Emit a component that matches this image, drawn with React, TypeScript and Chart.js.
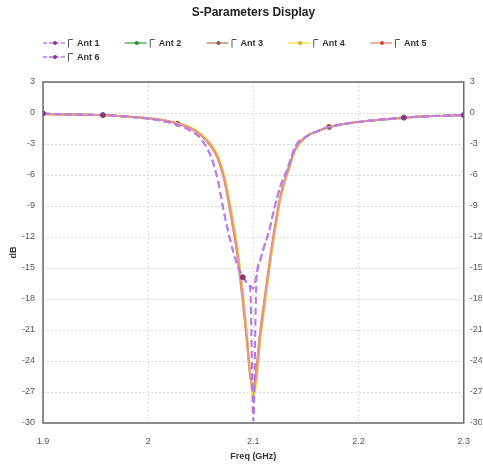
import React, { useEffect, useRef } from "react";
import { Chart, registerables } from "chart.js";
Chart.register(...registerables);

const FONT = "'Liberation Sans Narrow', 'Arial Narrow', 'Liberation Sans', sans-serif";

const TITLE = "S-Parameters Display";
const X_TITLE = "Freq (GHz)";
const Y_TITLE = "dB";
const SERIES_NAMES = ["Ant 1", "Ant 2", "Ant 3", "Ant 4", "Ant 5", "Ant 6"];

const FREQ = [1.9, 1.93, 1.957, 1.98, 2.0, 2.015, 2.028, 2.04, 2.05, 2.06, 2.066, 2.072, 2.078, 2.084, 2.09, 2.094, 2.097, 2.1, 2.103, 2.106, 2.11, 2.115, 2.12, 2.126, 2.132, 2.14, 2.15, 2.16, 2.172, 2.19, 2.21, 2.243, 2.27, 2.3];

const ANT1 = [-0.05, -0.15, -0.2, -0.35, -0.55, -0.8, -1.15, -1.7, -2.5, -4.3, -6.4, -9.6, -12.3, -14.5, -15.9, -16.4, -16.7, -17.0, -15.6, -14.4, -13.0, -11.4, -9.2, -7.0, -5.5, -3.2, -2.3, -1.8, -1.35, -1.0, -0.75, -0.45, -0.3, -0.2];
const ANT2 = [-0.1, -0.15, -0.2, -0.35, -0.5, -0.7, -1.0, -1.4, -2.05, -3.1, -4.1, -6.0, -9.0, -12.6, -17.6, -21.8, -25.2, -27.3, -25.6, -22.2, -19.0, -15.1, -11.6, -8.1, -5.95, -3.55, -2.3, -1.8, -1.35, -1.0, -0.75, -0.45, -0.3, -0.2];
const ANT3 = [-0.1, -0.15, -0.2, -0.35, -0.52, -0.72, -1.05, -1.5, -2.15, -3.3, -4.4, -6.4, -9.6, -13.3, -18.4, -22.3, -25.5, -26.3, -24.6, -21.5, -18.4, -14.6, -11.2, -7.9, -5.8, -3.5, -2.3, -1.8, -1.35, -1.0, -0.75, -0.45, -0.3, -0.2];
const ANT4 = [-0.1, -0.15, -0.2, -0.35, -0.5, -0.7, -1.0, -1.4, -2.0, -3.0, -4.0, -5.9, -8.9, -12.4, -17.4, -21.5, -25.0, -27.8, -26.0, -22.5, -19.3, -15.3, -11.8, -8.2, -6.0, -3.6, -2.3, -1.8, -1.35, -1.0, -0.75, -0.45, -0.3, -0.2];
const ANT5 = [-0.1, -0.15, -0.2, -0.35, -0.5, -0.7, -1.0, -1.45, -2.1, -3.2, -4.3, -6.2, -9.3, -12.9, -17.9, -22.0, -25.4, -27.0, -25.3, -22.0, -18.8, -14.9, -11.5, -8.0, -5.9, -3.5, -2.3, -1.8, -1.35, -1.0, -0.75, -0.45, -0.3, -0.2];
const ANT6 = [-0.05, -0.15, -0.2, -0.35, -0.55, -0.8, -1.15, -1.7, -2.5, -4.3, -6.4, -9.6, -12.3, -14.5, -15.9, -16.4, -17.0, -29.8, -16.0, -14.4, -13.0, -11.4, -9.2, -7.0, -5.5, -3.2, -2.3, -1.8, -1.35, -1.0, -0.75, -0.45, -0.3, -0.2];

const MARKERS_ANT1 = [1.9, 1.957, 2.09, 2.243, 2.3];
const MARKERS_ANT3 = [2.028, 2.172];
const MARKERS_NONE: number[] = [];

const X_TICKS = [1.9, 2.0, 2.1, 2.2, 2.3];
const Y_TICKS = [3, 0, -3, -6, -9, -12, -15, -18, -21, -24, -27, -30];

const SERIES = [
  { values: ANT1, color: "#bc80ea", marker: "#8a3a7a", dash: [7, 4], markers: MARKERS_ANT1, order: 0 },
  { values: ANT2, color: "#58b858", marker: "#2f8f2f", dash: [], markers: MARKERS_NONE, order: 5 },
  { values: ANT3, color: "#c89472", marker: "#8a5a3a", dash: [], markers: MARKERS_ANT3, order: 3 },
  { values: ANT4, color: "#eee050", marker: "#c8b820", dash: [], markers: MARKERS_NONE, order: 4 },
  { values: ANT5, color: "#ee9484", marker: "#d04a3a", dash: [], markers: MARKERS_NONE, order: 2 },
  { values: ANT6, color: "#b476e2", marker: "#8a3a7a", dash: [7, 4], markers: MARKERS_NONE, order: 1 },
];

const overlayPlugin = {
  id: "overlay",
  afterDraw(chart: any) {
    const ctx = chart.ctx;
    const a = chart.chartArea;
    ctx.save();
    ctx.setLineDash([]);
    ctx.strokeStyle = "#6a6a6a";
    ctx.lineWidth = 1.5;
    ctx.strokeRect(a.left, a.top, a.right - a.left, a.bottom - a.top);

    ctx.fillStyle = "#222";
    ctx.font = `bold 12px ${FONT}`;
    ctx.textAlign = "center";
    ctx.textBaseline = "middle";
    ctx.fillText(TITLE, (a.left + a.right) / 2, 13);

    chart.data.datasets.forEach((ds: any, i: number) => {
      const col = i % 5;
      const row = Math.floor(i / 5);
      const x = a.left + col * 81.75;
      const y = 43 + row * 14;
      ctx.strokeStyle = ds.borderColor;
      ctx.lineWidth = 1.5;
      ctx.setLineDash(ds.borderDash && ds.borderDash.length ? [4, 2] : []);
      ctx.beginPath();
      ctx.moveTo(x, y);
      ctx.lineTo(x + 22, y);
      ctx.stroke();
      ctx.setLineDash([]);
      ctx.fillStyle = ds.pointBackgroundColor;
      ctx.beginPath();
      ctx.arc(x + 12, y, 2, 0, Math.PI * 2);
      ctx.fill();
      ctx.strokeStyle = "#555";
      ctx.lineWidth = 1;
      ctx.beginPath();
      ctx.moveTo(x + 25.5, y + 4.5);
      ctx.lineTo(x + 25.5, y - 3.5);
      ctx.lineTo(x + 30, y - 3.5);
      ctx.stroke();
      ctx.fillStyle = "#333";
      ctx.font = `bold 9px ${FONT}`;
      ctx.textAlign = "left";
      ctx.textBaseline = "middle";
      ctx.fillText(ds.label, x + 34, y + 0.5);
    });
    ctx.restore();
  },
};

const fmt = (v: number) => String(Math.round(v * 100) / 100);

export default function App() {
  const ref = useRef<HTMLCanvasElement | null>(null);
  useEffect(() => {
    if (!ref.current) return;
    Chart.defaults.font.family = FONT;
    const gridOpts = { color: "#d8d8d8", drawTicks: false, lineWidth: 1 };
    const chart = new Chart(ref.current, {
      type: "line",
      data: {
        datasets: SERIES.map((s, i) => ({
          label: SERIES_NAMES[i],
          data: FREQ.map((f, j) => ({ x: f, y: s.values[j] })),
          borderColor: s.color,
          backgroundColor: s.color,
          borderWidth: 2,
          borderDash: s.dash,
          pointRadius: (c: any) => (s.markers.includes(FREQ[c.dataIndex]) ? 2.5 : 0),
          pointBackgroundColor: s.marker,
          pointBorderColor: s.marker,
          pointBorderWidth: 1,
          cubicInterpolationMode: "monotone",
          order: s.order,
          yAxisID: "y",
        })),
      },
      options: {
        responsive: false,
        animation: false,
        layout: { padding: { top: 82, left: 0, right: 0, bottom: 0 } },
        plugins: { legend: { display: false }, title: { display: false }, tooltip: { enabled: false } },
        scales: {
          x: {
            type: "linear",
            min: 1.9,
            max: 2.3,
            afterBuildTicks: (s: any) => { s.ticks = X_TICKS.map((v) => ({ value: v })); },
            ticks: { callback: (v: any) => fmt(Number(v)), padding: 13, color: "#555", font: { size: 9 }, maxRotation: 0 },
            grid: gridOpts,
            border: { display: false, dash: [2, 2] },
            title: { display: true, text: X_TITLE, color: "#333", font: { size: 9, weight: "bold" }, padding: { top: 0, bottom: 4 } },
            afterFit: (s: any) => { s.height = 43; },
          },
          y: {
            type: "linear",
            position: "left",
            min: -30,
            max: 3,
            afterBuildTicks: (s: any) => { s.ticks = Y_TICKS.map((v) => ({ value: v })); },
            ticks: { callback: (v: any) => fmt(Number(v)), padding: 8, color: "#555", font: { size: 9 } },
            grid: gridOpts,
            border: { display: false, dash: [2, 2] },
            title: { display: true, text: Y_TITLE, color: "#333", font: { size: 9, weight: "bold" }, padding: { top: 8, bottom: 0 } },
            afterFit: (s: any) => { s.width = 43; },
          },
          y2: {
            type: "linear",
            position: "right",
            min: -30,
            max: 3,
            afterBuildTicks: (s: any) => { s.ticks = Y_TICKS.map((v) => ({ value: v })); },
            ticks: { callback: (v: any) => fmt(Number(v)), padding: 6, color: "#555", font: { size: 9 } },
            grid: { display: false, drawTicks: false },
            border: { display: false },
            afterFit: (s: any) => { s.width = 18; },
          },
        },
      },
      plugins: [overlayPlugin],
    } as any);
    return () => chart.destroy();
  }, []);
  return (
    <div style={{ position: "absolute", left: 0, top: 0, width: 483, height: 466, background: "#fff" }}>
      <canvas ref={ref} width={483} height={466} />
    </div>
  );
}
